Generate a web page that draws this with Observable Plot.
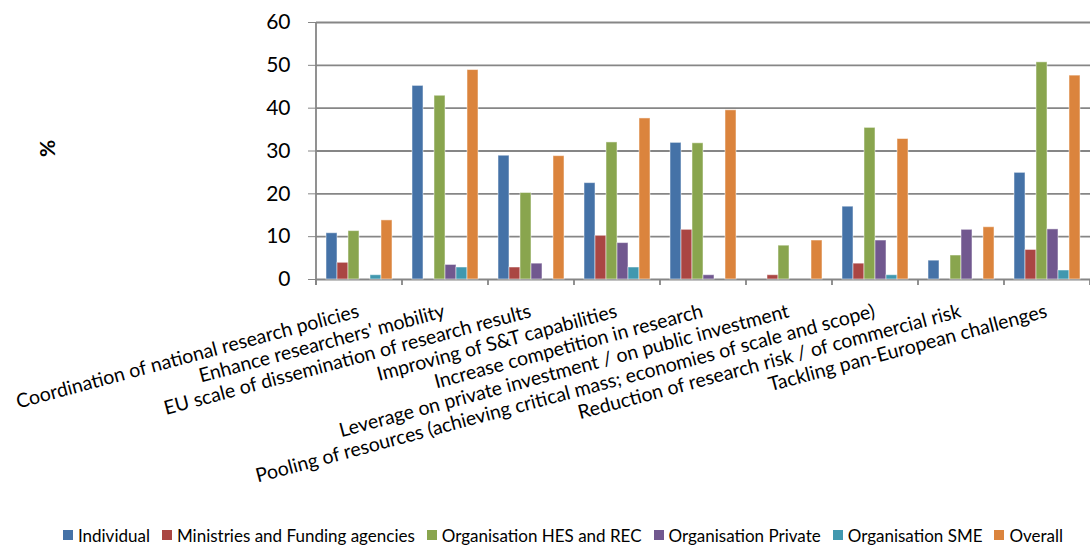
<!DOCTYPE html>
<html><head><meta charset="utf-8">
<script src="https://cdn.jsdelivr.net/npm/d3@7"></script>
<script src="https://cdn.jsdelivr.net/npm/@observablehq/plot@0.6"></script>
<style>
body{margin:0;background:#fff;font-family:Lato,sans-serif;}
#legend{display:flex;justify-content:center;align-items:center;height:30px;padding-top:5px;padding-left:36px;font-size:17px;color:#000;}
#legend .item{display:flex;align-items:center;margin:0 6px;}
#legend .sw{width:10px;height:10px;margin-right:5px;display:inline-block;}
</style></head><body>
<div id="chart"></div><div id="legend"></div>
<script>
const categories = [
  "Coordination of national research policies",
  "Enhance researchers' mobility",
  "EU scale of dissemination of research results",
  "Improving of S&T capabilities",
  "Increase competition in research",
  "Leverage on private investment / on public investment",
  "Pooling of resources (achieving critical mass; economies of scale and scope)",
  "Reduction of research risk / of commercial risk",
  "Tackling pan-European challenges"
];
const seriesNames = ["Individual", "Ministries and Funding agencies", "Organisation HES and REC", "Organisation Private", "Organisation SME", "Overall"];
const colors = ["#4572A7", "#AA4643", "#89A54E", "#71588F", "#4198AF", "#DB843D"];
const individual = [10.8, 45.2, 28.9, 22.5, 31.9, 0, 17.0, 4.4, 24.9];
const ministries = [3.9, 0, 2.8, 10.2, 11.6, 1.0, 3.7, 0, 6.9];
const hesRec = [11.3, 42.9, 20.2, 32.0, 31.8, 7.9, 35.4, 5.6, 50.7];
const privateOrg = [0, 3.4, 3.7, 8.5, 1.0, 0, 9.1, 11.6, 11.7];
const sme = [1.0, 2.8, 0, 2.8, 0, 0, 1.0, 0, 2.1];
const overall = [13.8, 48.9, 28.8, 37.6, 39.5, 9.1, 32.8, 12.2, 47.6];
const yTicks = [0, 10, 20, 30, 40, 50, 60];

const seriesValues = [individual, ministries, hesRec, privateOrg, sme, overall];
const data = categories.flatMap((c, i) => seriesNames.map((s, j) => ({category: c, series: s, value: seriesValues[j][i]})))
  .filter(d => d.value > 0);

const gray = "#868686";
const chart = Plot.plot({
  width: 1090, height: 515,
  marginLeft: 316, marginRight: 0, marginTop: 22, marginBottom: 236,
  style: {fontFamily: "Lato, sans-serif", background: "white", color: "black", overflow: "visible"},
  fx: {domain: categories, paddingInner: 0, paddingOuter: 0, label: null},
  x: {domain: seriesNames, paddingInner: 0, paddingOuter: 0.8, axis: null},
  y: {domain: [0, 60], label: null},
  color: {domain: seriesNames, range: colors},
  marks: [
    Plot.ruleY(yTicks, {stroke: gray, strokeWidth: 1.8}),
    Plot.barY(data, {fx: "category", x: "series", y: "value", fill: "series", stroke: "white", strokeOpacity: 0.5, strokeWidth: 1}),
    Plot.axisY({ticks: yTicks, tickSize: 8, tickPadding: 18, fontSize: 21, stroke: gray, fill: "black", label: null}),
    Plot.axisFx({anchor: "bottom", tickSize: 0, tickPadding: 24, tickRotate: -15, textAnchor: "end", lineAnchor: "top", dx: -3, fontSize: 19.5, fill: "black", label: null}),
    Plot.text(["%"], {frameAnchor: "left", rotate: -90, dx: -268, dy: 6, fontWeight: "bold", fontSize: 21, fill: "black", facetAnchor: "left"})
  ]
});
document.getElementById("chart").appendChild(chart);

// axis line and category boundary ticks from the library's scales
const fx = chart.scale("fx"), y = chart.scale("y");
const svg = d3.select(chart);
const g = svg.append("g").attr("stroke", gray).attr("stroke-width", 1.8);
const y0 = y.apply(0), yTop = y.apply(60);
const x0 = fx.apply(categories[0]);
g.append("line").attr("x1", x0).attr("x2", x0).attr("y1", yTop).attr("y2", y0 + 6);
const bounds = categories.map(c => fx.apply(c)).concat([fx.apply(categories[categories.length - 1]) + fx.bandwidth]);
bounds.forEach(b => g.append("line").attr("x1", b).attr("x2", b).attr("y1", y0).attr("y2", y0 + 6));

const legend = d3.select("#legend");
seriesNames.forEach((s, i) => {
  const it = legend.append("span").attr("class", "item");
  it.append("span").attr("class", "sw").style("background", colors[i]);
  it.append("span").text(s);
});
</script>
</body></html>
